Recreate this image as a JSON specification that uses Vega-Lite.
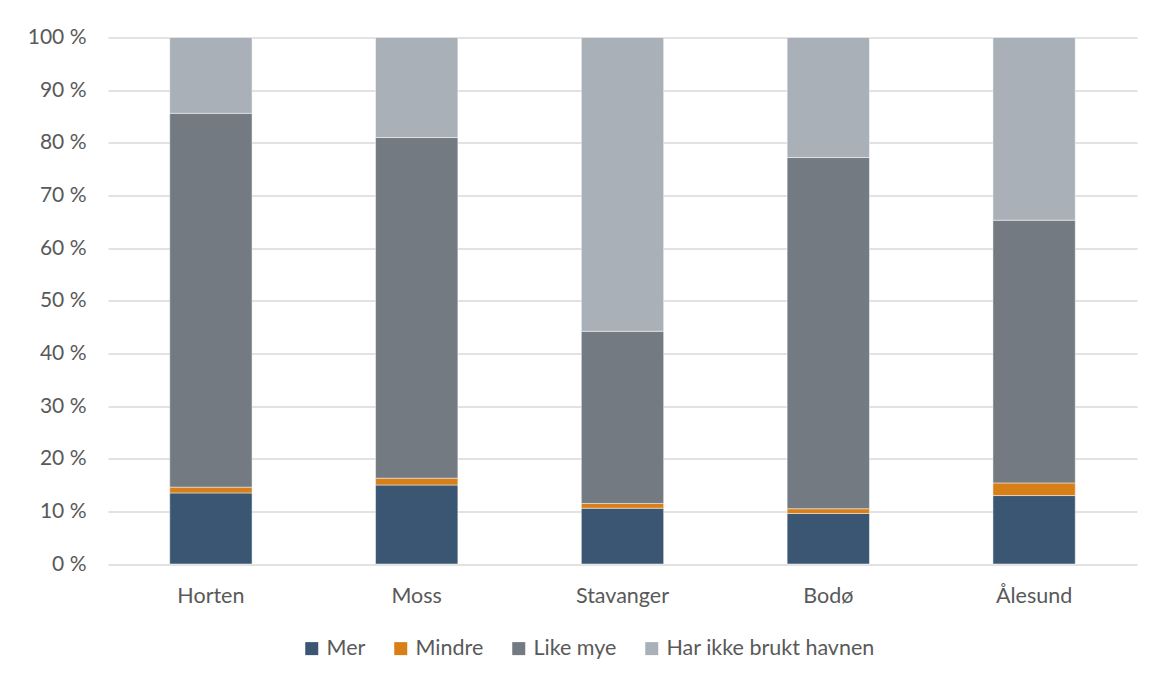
{
  "$schema": "https://vega.github.io/schema/vega-lite/v6.json",
  "autosize": "none",
  "width": 1029,
  "height": 526.5,
  "padding": {"left": 108, "top": 37.5, "right": 20, "bottom": 118},
  "background": "#ffffff",
  "data": {
    "values": [
      {"havn": "Horten", "svar": "Mer", "nr": 1, "andel": 13.5},
      {"havn": "Horten", "svar": "Mindre", "nr": 2, "andel": 1.1},
      {"havn": "Horten", "svar": "Like mye", "nr": 3, "andel": 71.0},
      {"havn": "Horten", "svar": "Har ikke brukt havnen", "nr": 4, "andel": 14.4},
      {"havn": "Moss", "svar": "Mer", "nr": 1, "andel": 15.0},
      {"havn": "Moss", "svar": "Mindre", "nr": 2, "andel": 1.3},
      {"havn": "Moss", "svar": "Like mye", "nr": 3, "andel": 64.7},
      {"havn": "Moss", "svar": "Har ikke brukt havnen", "nr": 4, "andel": 19.0},
      {"havn": "Stavanger", "svar": "Mer", "nr": 1, "andel": 10.6},
      {"havn": "Stavanger", "svar": "Mindre", "nr": 2, "andel": 0.9},
      {"havn": "Stavanger", "svar": "Like mye", "nr": 3, "andel": 32.7},
      {"havn": "Stavanger", "svar": "Har ikke brukt havnen", "nr": 4, "andel": 55.8},
      {"havn": "Bodø", "svar": "Mer", "nr": 1, "andel": 9.6},
      {"havn": "Bodø", "svar": "Mindre", "nr": 2, "andel": 0.9},
      {"havn": "Bodø", "svar": "Like mye", "nr": 3, "andel": 66.7},
      {"havn": "Bodø", "svar": "Har ikke brukt havnen", "nr": 4, "andel": 22.8},
      {"havn": "Ålesund", "svar": "Mer", "nr": 1, "andel": 13.0},
      {"havn": "Ålesund", "svar": "Mindre", "nr": 2, "andel": 2.4},
      {"havn": "Ålesund", "svar": "Like mye", "nr": 3, "andel": 49.9},
      {"havn": "Ålesund", "svar": "Har ikke brukt havnen", "nr": 4, "andel": 34.7}
    ]
  },
  "mark": {"type": "bar", "stroke": "#ffffff", "strokeWidth": 0.8, "strokeOpacity": 0.6},
  "encoding": {
    "x": {
      "field": "havn",
      "type": "nominal",
      "sort": ["Horten", "Moss", "Stavanger", "Bodø", "Ålesund"],
      "scale": {"paddingInner": 0.6, "paddingOuter": 0.3},
      "axis": {
        "title": null,
        "labelAngle": 0,
        "labelFont": "Lato",
        "labelFontSize": 21.5,
        "labelColor": "#595959",
        "labelPadding": 21,
        "ticks": false,
        "domain": false
      }
    },
    "y": {
      "field": "andel",
      "type": "quantitative",
      "stack": "zero",
      "scale": {"domain": [0, 100], "nice": false},
      "axis": {
        "title": null,
        "values": [0, 10, 20, 30, 40, 50, 60, 70, 80, 90, 100],
        "labelExpr": "datum.value + ' %'",
        "labelFont": "Lato",
        "labelFontSize": 21,
        "labelColor": "#595959",
        "labelPadding": 22,
        "ticks": false,
        "domain": false,
        "grid": true,
        "gridColor": "#d9d9d9",
        "gridWidth": 1.5
      }
    },
    "color": {
      "field": "svar",
      "type": "nominal",
      "scale": {
        "domain": ["Mer", "Mindre", "Like mye", "Har ikke brukt havnen"],
        "range": ["#3a5673", "#d97f17", "#737a81", "#aab0b7"]
      },
      "legend": {
        "title": null,
        "orient": "none",
        "direction": "horizontal",
        "legendX": 193,
        "legendY": 600,
        "symbolType": "square",
        "symbolSize": 169,
        "symbolStrokeWidth": 0,
        "symbolOpacity": 1,
        "labelFont": "Lato",
        "labelFontSize": 21.5,
        "labelColor": "#595959",
        "labelOffset": 4,
        "labelLimit": 0,
        "columnPadding": 24
      }
    },
    "order": {"field": "nr", "type": "quantitative", "sort": "ascending"}
  },
  "config": {
    "view": {"stroke": null}
  }
}
